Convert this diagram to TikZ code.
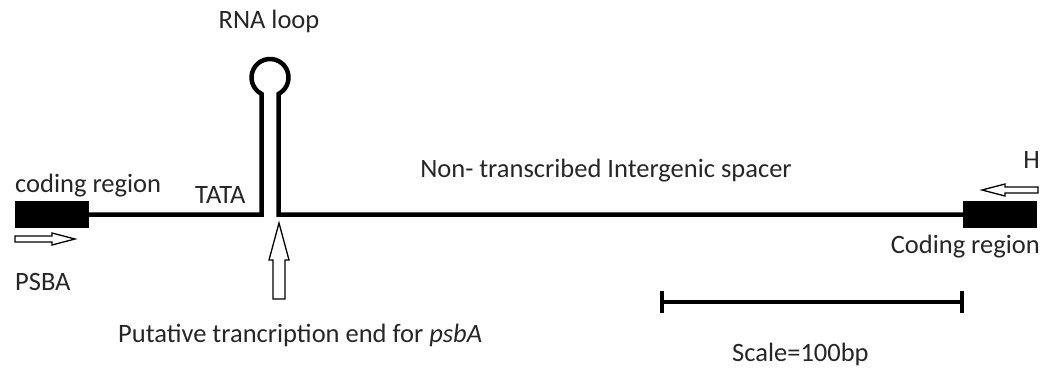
\documentclass[tikz,border=0pt]{standalone}
\usepackage{fontspec}
\setmainfont{Carlito}
\begin{document}
\begin{tikzpicture}[x=1pt,y=-1pt,
  dna/.style={line width=4.5pt},
  codebox/.style={fill=black, minimum width=74pt, minimum height=27pt, inner sep=0pt},
  lbl/.style={font=\fontsize{26.5}{30}\selectfont, text=black!85, inner sep=0pt},
  hollow/.style={draw, line width=1.3pt, fill=white, line join=miter}]
\useasboundingbox (0,0) rectangle (1042,367);

% coding regions at both ends
\node[codebox] (lbox) at (52,214.5) {};
\node[codebox] (rbox) at (1000,214.5) {};

% stem-loop and intergenic spacer
\coordinate (stemL) at (261.5,214.5);
\coordinate (stemR) at (278.5,214.5);
\draw[dna, line join=miter] (lbox.east) -- (stemL) -- (261.5,93.9)
  arc[start angle=117.4, end angle=422.6, radius=18.5]
  -- (stemR) -- (rbox.west);

% direction arrows
\draw[hollow] (15,236) -- (52,236) -- (52,233) -- (75,239) -- (52,245) -- (52,242) -- (15,242) -- cycle;
\draw[hollow] (1038,187) -- (1005,187) -- (1005,184) -- (982,190) -- (1005,196) -- (1005,193) -- (1038,193) -- cycle;
\draw[hollow] (273,299) -- (273,260) -- (269,260) -- (279,223) -- (289,260) -- (285,260) -- (285,299) -- cycle;

% scale bar
\coordinate (sa) at (662,302);
\coordinate (sb) at (962,302);
\draw[line width=4pt] (sa) -- (sb);
\draw[line width=4pt] (662,291) -- (662,313);
\draw[line width=4pt] (962,291) -- (962,313);

% labels
\node[lbl, anchor=base] (rnaloop) at (269,28) {RNA loop};
\node[lbl, anchor=base west] (cl) at (15,192) {coding region};
\node[lbl, anchor=base west] (psba) at (15,290) {PSBA};
\node[lbl, anchor=base west] (tata) at (195,203) {TATA};
\node[lbl, anchor=base] (spacer) at (606,177) {Non- transcribed Intergenic spacer};
\node[lbl, anchor=base east] (h) at (1040,168) {H};
\node[lbl, anchor=base east] (cr) at (1040,253) {Coding region};
\node[lbl, anchor=base west] (end) at (118,342) {Putative trancription end for \textit{psbA}};
\node[lbl, anchor=base west] (scale) at (732,361) {Scale=100bp};
\end{tikzpicture}
\end{document}
